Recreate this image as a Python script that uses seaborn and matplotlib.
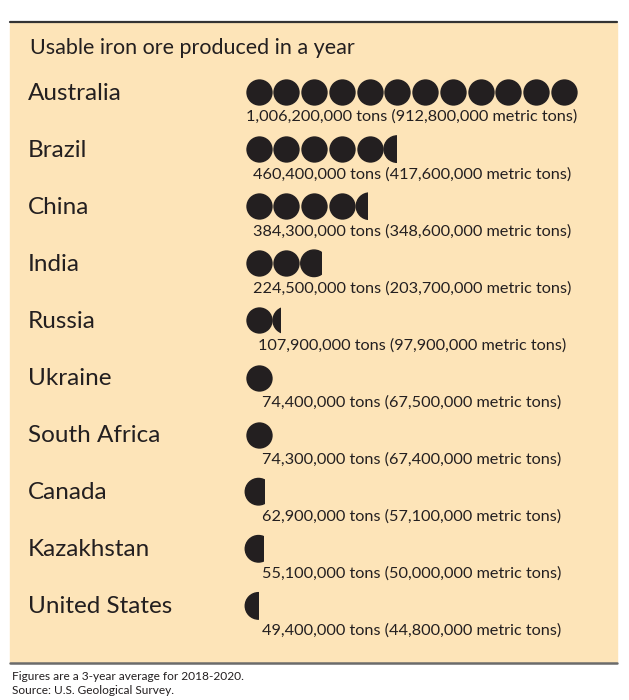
import matplotlib
matplotlib.use('Agg')
import matplotlib.pyplot as plt
from matplotlib.patches import Circle, Rectangle
import seaborn as sns
import pandas as pd

sns.set_theme(style='white')
plt.rcParams['font.family'] = ['Lato', 'DejaVu Sans']

countries = ['Australia', 'Brazil', 'China', 'India', 'Russia', 'Ukraine',
             'South Africa', 'Canada', 'Kazakhstan', 'United States']
tons = ['1,006,200,000', '460,400,000', '384,300,000', '224,500,000',
        '107,900,000', '74,400,000', '74,300,000', '62,900,000',
        '55,100,000', '49,400,000']
metric_tons = ['912,800,000', '417,600,000', '348,600,000', '203,700,000',
               '97,900,000', '67,500,000', '67,400,000', '57,100,000',
               '50,000,000', '44,800,000']
# number of circle symbols drawn per country (partial = cut circle)
icons = [12, 5.5, 4.45, 2.8, 1.3, 1.0, 1.0, 0.75, 0.72, 0.52]

title = 'Usable iron ore produced in a year'
notes = ['Figures are a 3-year average for 2018-2020.',
         'Source: U.S. Geological Survey.']

W, H = 629, 700
fig = plt.figure(figsize=(W / 100, H / 100), dpi=100)
ax = fig.add_axes([0, 0, 1, 1])
ax.set_xlim(0, W)
ax.set_ylim(H, 0)
ax.axis('off')

ink = '#231f20'
panel = '#fde4b8'

ax.add_patch(Rectangle((10, 23), 607, 639, color=panel, zorder=0))
ax.plot([10, 617], [22, 22], color='#333333', lw=1.6)
ax.plot([10, 617], [663, 663], color='#6b6b6b', lw=1.8)

ax.text(30, 48, title, fontsize=15.5, color=ink, va='center')

row0, step = 92, 57.1
x0, pitch, dia = 258.5, 27.75, 26.5

full_rows = []
for i, (name, n) in enumerate(zip(countries, icons)):
    y = row0 + i * step
    ax.text(28, y + 1, name, fontsize=17.5, color=ink, va='center')
    ax.text(412, y + 25, f'{tons[i]} tons ({metric_tons[i]} metric tons)',
            fontsize=11.7, color=ink, va='center', ha='center')
    whole = int(n)
    for k in range(whole):
        full_rows.append({'x': x0 + k * pitch, 'y': y})
    frac = n - whole
    if frac > 0.01:
        cx = x0 + whole * pitch
        c = Circle((cx, y), dia / 2, color=ink, zorder=3)
        clip = Rectangle((cx - dia / 2 - 1, y - dia), dia * frac + 1, 2 * dia,
                         transform=ax.transData)
        ax.add_patch(c)
        c.set_clip_path(clip)

icons_df = pd.DataFrame(full_rows)
sns.scatterplot(data=icons_df, x='x', y='y', ax=ax, color=ink, s=360,
                linewidth=0, legend=False, zorder=3)

ax.text(12, 677, notes[0], fontsize=8.6, color=ink, va='center')
ax.text(12, 691, notes[1], fontsize=8.6, color=ink, va='center')

fig.savefig('out.png', dpi=100, facecolor='white')
